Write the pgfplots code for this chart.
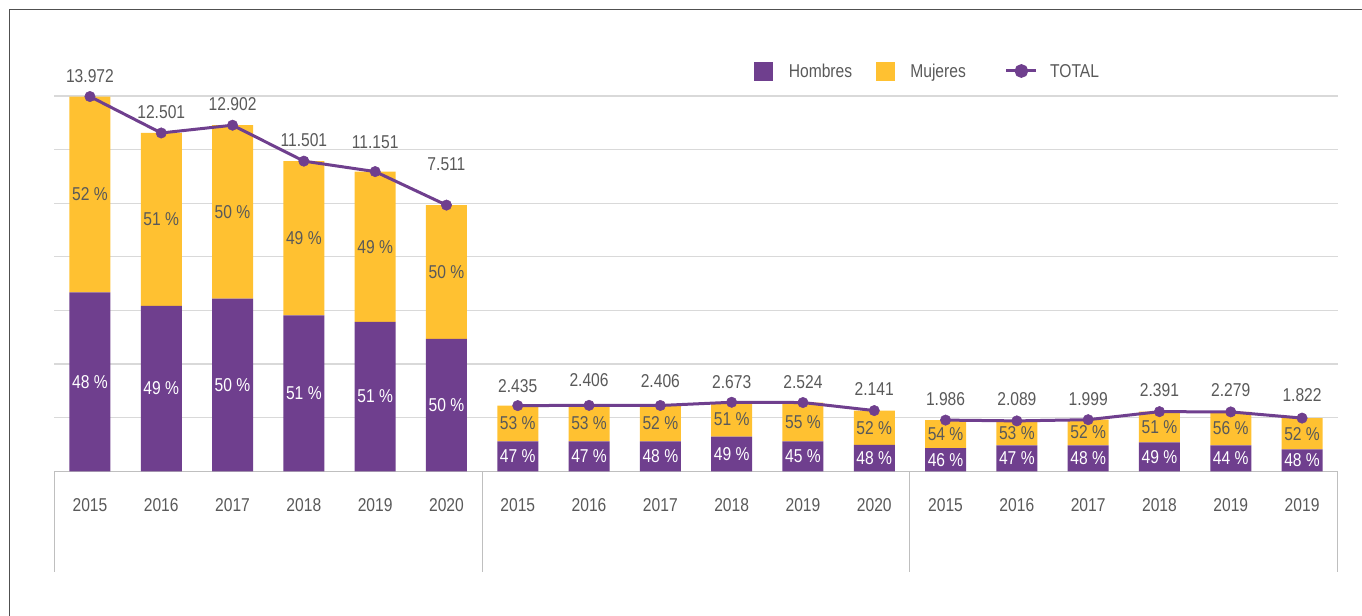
\documentclass[border=0pt]{standalone}
\usepackage{fontspec}
\setmainfont{Liberation Sans}[FakeStretch=0.84]
\usepackage{pgfplots}
\usepackage{pgfplotstable}
\pgfplotsset{compat=1.18}
\definecolor{mpurple}{RGB}{111,63,142}
\definecolor{myellow}{RGB}{255,193,49}
\definecolor{textgray}{RGB}{89,89,89}
\definecolor{gridgray}{RGB}{217,217,217}
\definecolor{axisgray}{RGB}{191,191,191}
\definecolor{framegray}{RGB}{80,80,80}
\newcommand\cf{\fontsize{13.95pt}{16pt}\selectfont}

\pgfplotstableread{
x H M T Hc Mc Hl Ml Tl Ty
0 6672 7308 13980 3336 10326 48 52 13.972 14745
1 6175 6445 12620 3088 9398 49 51 12.501 13402
2 6437 6473 12910 3219 9674 50 50 12.902 13689
3 5813 5757 11570 2907 8692 51 49 11.501 12357
4 5578 5602 11180 2789 8379 51 49 11.151 12294
5 4944 4986 9930 2472 7437 50 50 7.511 11451
6 1115 1335 2450 558 1783 47 53 2.435 3189
7 1115 1345 2460 558 1788 47 53 2.406 3394
8 1115 1340 2455 558 1785 48 52 2.406 3380
9 1290 1285 2575 645 1933 49 51 2.673 3320
10 1115 1450 2565 558 1840 45 55 2.524 3320
11 985 1280 2265 493 1625 48 52 2.141 3070
12 860 1050 1910 430 1385 46 54 1.986 2678
13 970 910 1880 485 1425 47 53 2.089 2704
14 970 955 1925 485 1448 48 52 1.999 2704
15 1080 1145 2225 540 1653 49 51 2.391 3032
16 970 1245 2215 485 1593 44 56 2.279 3032
17 820 1165 1985 410 1403 48 52 1.822 2827
}\data

\begin{document}
\begin{tikzpicture}[font=\cf]
\useasboundingbox (-40.725pt,-108.525pt) rectangle (980.775pt,353.475pt);
\draw[framegray, line width=1pt] (-33.75pt,-130pt) -- (-33.75pt,346.2pt) -- (1000pt,346.2pt);

\begin{axis}[
  at={(0pt,0pt)}, anchor=south west,
  scale only axis, width=962.55pt, height=281.475pt,
  xmin=-0.5, xmax=17.5, ymin=0, ymax=14000,
  clip=false,
  ybar stacked, bar width=30.75pt,
  axis x line*=bottom, axis y line*=left,
  x axis line style={draw=axisgray, line width=0.75pt},
  y axis line style={draw=none},
  xtick={0,...,17},
  xticklabels={2015,2016,2017,2018,2019,2020,2015,2016,2017,2018,2019,2020,2015,2016,2017,2018,2019,2019},
  xticklabel style={anchor=center, yshift=-25.3pt, text=textgray, font=\cf},
  ytick={0,2000,...,14000}, yticklabels={},
  scaled y ticks=false,
  major tick length=0pt,
  tick style={draw=none},
  ymajorgrids, grid style={gridgray, line width=0.9pt},
]
\addplot[fill=mpurple, draw=none] table[x=x, y=H] {\data};
\addplot[fill=myellow, draw=none] table[x=x, y=M] {\data};
\draw[axisgray, line width=0.75pt] (axis cs:-0.5,0) -- ++(0pt,-75.5pt);
\draw[axisgray, line width=0.75pt] (axis cs:5.5,0) -- ++(0pt,-75.5pt);
\draw[axisgray, line width=0.75pt] (axis cs:11.5,0) -- ++(0pt,-75.5pt);
\draw[axisgray, line width=0.75pt] (axis cs:17.5,0) -- ++(0pt,-75.5pt);
\end{axis}

\begin{axis}[
  at={(0pt,0pt)}, anchor=south west,
  scale only axis, width=962.55pt, height=281.475pt,
  xmin=-0.5, xmax=17.5, ymin=0, ymax=14000,
  clip=false, hide axis,
  legend columns=3,
  legend style={at={(0.5452,1.0666)}, anchor=west, draw=none, fill=none,
    inner sep=0pt, outer sep=0pt, font=\cf, text=textgray,
    nodes={inner sep=0pt, anchor=base west},
    row sep=0pt, column sep=0pt,
    /tikz/every odd column/.append style={column sep=12.2pt},
    /tikz/every even column/.append style={column sep=17.5pt}},
]
\addlegendimage{legend image code/.code={\fill[mpurple] (0pt,-1.75pt) rectangle (13.5pt,11.75pt);}}
\addlegendentry{Hombres}
\addlegendimage{legend image code/.code={\fill[myellow] (0pt,-1.75pt) rectangle (13.5pt,11.75pt);}}
\addlegendentry{Mujeres}
\addplot[mpurple, line width=2.25pt, mark=*, mark size=3.9pt, mark options={line width=0.4pt, fill=mpurple},
  legend image code/.code={\path (-11.75pt,5pt); \draw[mpurple, line width=2.25pt] (0pt,5pt) -- (22.5pt,5pt); \fill[mpurple] (11.25pt,5pt) circle (4pt);}]
  coordinates {(0,13980) (1,12620) (2,12910) (3,11570) (4,11180) (5,9930)};
\addlegendentry{\hspace*{-3pt}TOTAL}
\addplot[mpurple, line width=2.25pt, mark=*, mark size=3.9pt, mark options={line width=0.4pt, fill=mpurple}, forget plot]
  coordinates {(6,2450) (7,2460) (8,2455) (9,2575) (10,2565) (11,2265)};
\addplot[mpurple, line width=2.25pt, mark=*, mark size=3.9pt, mark options={line width=0.4pt, fill=mpurple}, forget plot]
  coordinates {(12,1910) (13,1880) (14,1925) (15,2225) (16,2215) (17,1985)};
% labels
\addplot[draw=none, mark=none, forget plot, point meta=explicit symbolic,
  nodes near coords={\pgfplotspointmeta{} \%},
  every node near coord/.style={anchor=center, inner sep=0pt, text=white, font=\cf}]
  table[x=x, y=Hc, meta=Hl] {\data};
\addplot[draw=none, mark=none, forget plot, point meta=explicit symbolic,
  nodes near coords={\pgfplotspointmeta{} \%},
  every node near coord/.style={anchor=center, inner sep=0pt, text=textgray, font=\cf}]
  table[x=x, y=Mc, meta=Ml] {\data};
\addplot[draw=none, mark=none, forget plot, point meta=explicit symbolic,
  nodes near coords={\pgfplotspointmeta},
  every node near coord/.style={anchor=center, inner sep=0pt, text=textgray, font=\cf}]
  table[x=x, y=Ty, meta=Tl] {\data};
\end{axis}
\end{tikzpicture}
\end{document}
